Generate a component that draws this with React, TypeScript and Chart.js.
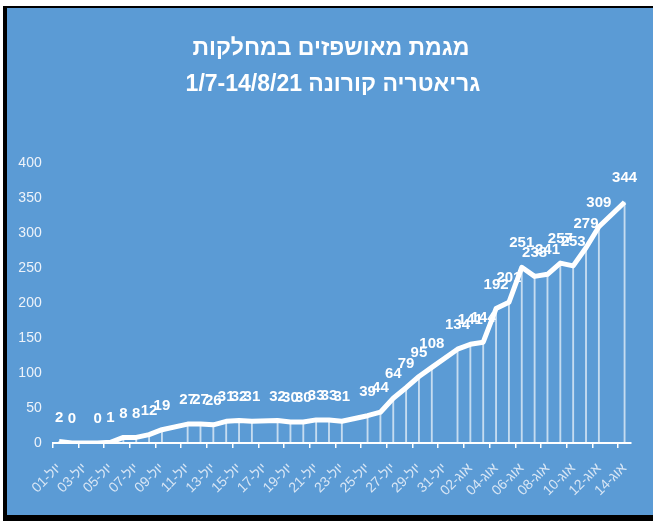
import React, { useEffect, useRef } from "react";
import { Chart, registerables } from "chart.js";

Chart.register(...registerables);

const titleLines = ["מגמת מאושפזים במחלקות", "1/7-14/8/21 גריאטריה קורונה"];

const julyDays = ["01","02","03","04","05","06","07","08","09","10","11","12","13","14","15","16","17","18","19","20","21","22","23","24","25","26","27","28","29","30","31"];
const augDays = ["01","02","03","04","05","06","07","08","09","10","11","12","13","14"];

const categories: string[] = [
  ...julyDays.map((d) => "יול-" + d),
  ...augDays.map((d) => "אוג-" + d),
];

const patients: (number | null)[] = [
  2, 0, null, 0, 1, 8, 8, 12, 19, null,
  27, 27, 26, 31, 32, 31, null, 32, 30, 30,
  33, 33, 31, null, 39, 44, 64, 79, 95, 108,
  null, 134, 141, 144, 192, 201, 251, 238, 241, 257,
  253, 279, 309, null, 344,
];

const yTicks = [0, 50, 100, 150, 200, 250, 300, 350, 400];

const NARROW = '"Liberation Sans Narrow", "Liberation Sans", Arial, sans-serif';
const SANS = '"Liberation Sans", Arial, sans-serif';

const dataLabelPlugin = {
  id: "dataLabels",
  afterDatasetsDraw(chart: any) {
    const meta = chart.getDatasetMeta(0);
    const ctx = chart.ctx;
    ctx.save();
    ctx.fillStyle = "#ffffff";
    ctx.font = "bold 15px " + NARROW;
    ctx.textAlign = "center";
    ctx.textBaseline = "middle";
    meta.data.forEach((pt: any, i: number) => {
      const v = patients[i];
      if (v === null || v === undefined) return;
      ctx.fillText(String(v), pt.x, pt.y - 24);
    });
    ctx.restore();
  },
};

const titlePlugin = {
  id: "customTitle",
  afterDraw(chart: any) {
    const ctx = chart.ctx;
    ctx.save();
    ctx.fillStyle = "#ffffff";
    ctx.font = "bold 23px " + SANS;
    ctx.textAlign = "center";
    ctx.textBaseline = "middle";
    ctx.fillText(titleLines[0], 331, 49);
    ctx.fillText(titleLines[1], 333, 85);
    ctx.restore();
  },
};

export default function App() {
  const ref = useRef<HTMLCanvasElement>(null);
  useEffect(() => {
    if (!ref.current) return;
    const chart = new Chart(ref.current, {
      type: "line",
      data: {
        labels: categories,
        datasets: [
          {
            type: "line",
            data: patients,
            borderColor: "#ffffff",
            borderWidth: 5,
            pointRadius: 0,
            spanGaps: true,
            tension: 0,
            order: 0,
            borderJoinStyle: "round",
          } as any,
          {
            type: "bar",
            data: patients,
            backgroundColor: "rgba(255,255,255,0.65)",
            barThickness: 1.2,
            order: 1,
          } as any,
        ],
      },
      options: {
        responsive: false,
        animation: false,
        layout: { padding: { left: 0, right: 22, top: 163, bottom: 0 } },
        plugins: {
          legend: { display: false },
          tooltip: { enabled: false },
          title: { display: false },
        },
        scales: {
          x: {
            offset: true,
            grid: {
              offset: true,
              drawOnChartArea: false,
              drawTicks: true,
              tickLength: 5,
              lineWidth: 1.5,
              color: (c: any) => (c.index % 2 === 0 ? "#ffffff" : "rgba(0,0,0,0)"),
            },
            border: { display: true, color: "#ffffff", width: 2 },
            ticks: {
              autoSkip: false,
              minRotation: 45,
              maxRotation: 45,
              padding: 12,
              color: "#d8e6f5",
              font: { family: SANS, size: 14 },
              callback: (_v: any, i: number) => (i % 2 === 0 ? categories[i] : ""),
            },
            afterFit: (s: any) => {
              s.height = 84;
            },
          },
          y: {
            min: 0,
            max: 400,
            grid: { display: false, drawTicks: false },
            border: { display: false },
            afterBuildTicks: (s: any) => {
              s.ticks = yTicks.map((v) => ({ value: v }));
            },
            ticks: {
              padding: 11,
              color: "#eef3fa",
              font: { family: NARROW, size: 14 },
            },
            afterFit: (s: any) => {
              s.width = 52.7;
            },
          },
        },
      },
      plugins: [dataLabelPlugin, titlePlugin],
    });
    return () => chart.destroy();
  }, []);

  return (
    <div style={{ position: "absolute", left: 0, top: 0, width: 653, height: 527, background: "#ffffff", overflow: "hidden" }}>
      <div
        style={{
          position: "absolute",
          left: 3,
          top: 6,
          width: 650,
          height: 515,
          background: "#5b9bd5",
          borderLeft: "4px solid #000",
          borderTop: "2px solid #000",
          borderBottom: "6px solid #000",
          boxSizing: "border-box",
        }}
      />
      <canvas ref={ref} width={653} height={527} style={{ position: "absolute", left: 0, top: 0 }} />
    </div>
  );
}
